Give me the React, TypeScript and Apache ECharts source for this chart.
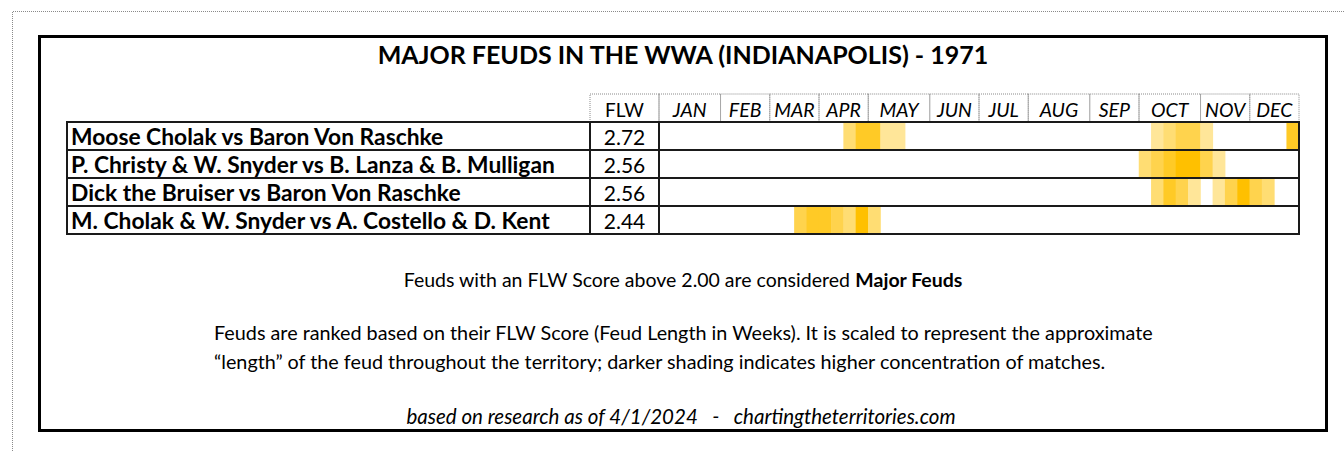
import React, { useEffect, useRef } from "react";
import * as echarts from "echarts";

const TITLE = "MAJOR FEUDS IN THE WWA (INDIANAPOLIS) - 1971";
const months = ["JAN", "FEB", "MAR", "APR", "MAY", "JUN", "JUL", "AUG", "SEP", "OCT", "NOV", "DEC"];
const monthWeeks = [5, 4, 4, 4, 5, 4, 4, 5, 4, 5, 4, 4];
const weeks = Array.from({ length: 52 }, (_, i) => `W${i + 1}`);

const feuds = [
  "Moose Cholak vs Baron Von Raschke",
  "P. Christy & W. Snyder vs B. Lanza & B. Mulligan",
  "Dick the Bruiser vs Baron Von Raschke",
  "M. Cholak & W. Snyder vs A. Costello & D. Kent",
];
const flwScores = ["2.72", "2.56", "2.56", "2.44"];

// [weekIndex (0-based), shading level 1..5]
const shadeCholakVonRaschke = [[15, 2], [16, 4], [17, 4], [18, 1], [19, 1], [40, 1], [41, 2], [42, 3], [43, 3], [44, 1], [51, 4]];
const shadeChristySnyder = [[39, 2], [40, 3], [41, 4], [42, 5], [43, 5], [44, 3], [45, 1]];
const shadeBruiserVonRaschke = [[40, 2], [41, 4], [42, 3], [43, 1], [45, 1], [46, 3], [47, 5], [48, 3], [49, 2]];
const shadeCholakSnyder = [[11, 3], [12, 4], [13, 4], [14, 3], [15, 2], [16, 5], [17, 2]];
const shading = [shadeCholakVonRaschke, shadeChristySnyder, shadeBruiserVonRaschke, shadeCholakSnyder];

const NOTE1 = "Feuds with an FLW Score above 2.00 are considered ";
const NOTE1B = "Major Feuds";
const NOTE2 = "Feuds are ranked based on their FLW Score (Feud Length in Weeks). It is scaled to represent the approximate";
const NOTE3 = "\u201Clength\u201D of the feud throughout the territory; darker shading indicates higher concentration of matches.";
const NOTE4 = "based on research as of 4/1/2024   -   chartingtheterritories.com";

const FONT = "Lato, 'Open Sans', sans-serif";

export default function App() {
  const ref = useRef<HTMLDivElement>(null);
  useEffect(() => {
    document.body.style.margin = "0";
    if (!ref.current) return;
    const chart = echarts.init(ref.current, null, { renderer: "svg" });

    const heatData: number[][] = [];
    shading.forEach((row, r) => row.forEach(([w, v]) => heatData.push([w, r, v])));

    const monthData: number[][] = [];
    let start = 0;
    monthWeeks.forEach((n, i) => {
      monthData.push([start, 0, n, i]);
      start += n;
    });

    const option: any = {
      animation: false,
      backgroundColor: "#fff",
      textStyle: { fontFamily: FONT },
      grid: { left: 659, top: 122, width: 640, height: 112, containLabel: false },
      xAxis: {
        type: "category",
        data: weeks,
        show: false,
      },
      yAxis: [
        {
          type: "category",
          data: feuds,
          inverse: true,
          position: "left",
          axisLine: { show: false },
          axisTick: { show: false },
          splitLine: { show: false },
          axisLabel: {
            interval: 0,
            hideOverlap: false,
            align: "left",
            margin: 588,
            fontSize: 22.8,
            fontWeight: "bold",
            color: "#000",
            fontFamily: FONT,
          },
        },
        {
          type: "category",
          data: flwScores,
          inverse: true,
          position: "left",
          axisLine: { show: false },
          axisTick: { show: false },
          splitLine: { show: false },
          axisLabel: {
            interval: 0,
            hideOverlap: false,
            align: "center",
            margin: 34.5,
            fontSize: 21,
            color: "#000",
            fontFamily: FONT,
          },
        },
      ],
      visualMap: {
        show: false,
        type: "continuous",
        min: 1,
        max: 5,
        dimension: 2,
        seriesIndex: 0,
        inRange: { color: ["#FFE699", "#FFC000"] },
      },
      series: [
        {
          type: "heatmap",
          data: heatData,
          itemStyle: { borderWidth: 0 },
          emphasis: { disabled: true },
          z: 1,
        },
        {
          type: "custom",
          z: 5,
          silent: true,
          data: feuds.map((_, i) => [0, i]),
          renderItem: (params: any, api: any) => {
            const cs = params.coordSys;
            const cy = api.coord([0, api.value(1)])[1];
            const h = api.size([0, 1])[1];
            const top = cy - h / 2;
            const stroke = { stroke: "#1a1a1a", lineWidth: 2, fill: null };
            return {
              type: "group",
              children: [
                { type: "rect", shape: { x: cs.x - 592, y: top, width: cs.width + 592, height: h }, style: stroke },
                { type: "line", shape: { x1: cs.x - 69, y1: top, x2: cs.x - 69, y2: top + h }, style: stroke },
                { type: "line", shape: { x1: cs.x, y1: top, x2: cs.x, y2: top + h }, style: stroke },
              ],
            };
          },
        },
        {
          type: "custom",
          z: 4,
          silent: true,
          data: monthData,
          renderItem: (params: any, api: any) => {
            const cs = params.coordSys;
            const bw = api.size([1, 0])[0];
            const x0 = api.coord([api.value(0), 0])[0] - bw / 2;
            const w = api.value(2) * bw;
            const hh = 28;
            const top = cs.y - hh;
            const dotted = { stroke: "#8a8a8a", lineWidth: 1, lineDash: [1, 1], fill: null };
            const children: any[] = [
              { type: "rect", shape: { x: x0, y: top, width: w, height: hh }, style: dotted },
              {
                type: "text",
                style: {
                  text: months[api.value(3)],
                  x: x0 + w / 2,
                  y: top + hh / 2 + 1,
                  align: "center",
                  verticalAlign: "middle",
                  fontSize: 19.5,
                  fontStyle: "italic",
                  fontFamily: FONT,
                  fill: "#000",
                },
              },
            ];
            if (params.dataIndex === 0) {
              children.push(
                { type: "rect", shape: { x: cs.x - 69, y: top, width: 69, height: hh }, style: dotted },
                {
                  type: "text",
                  style: {
                    text: "FLW",
                    x: cs.x - 34.5,
                    y: top + hh / 2 + 1,
                    align: "center",
                    verticalAlign: "middle",
                    fontSize: 19,
                    fontFamily: FONT,
                    fill: "#000",
                  },
                }
              );
            }
            return { type: "group", children };
          },
        },
      ],
      graphic: [
        {
          type: "polyline",
          silent: true,
          shape: { points: [[12.5, 451], [12.5, 11.5], [1344, 11.5]] },
          style: { fill: null, stroke: "#8a8a8a", lineWidth: 1, lineDash: [1, 1] },
        },
        {
          type: "rect",
          silent: true,
          shape: { x: 39.5, y: 36.5, width: 1287, height: 394 },
          style: { fill: null, stroke: "#000", lineWidth: 3 },
        },
        {
          type: "text",
          x: 683,
          y: 54,
          style: {
            text: TITLE,
            align: "center",
            verticalAlign: "middle",
            fontSize: 25,
            fontWeight: "bold",
            fontFamily: FONT,
            fill: "#000",
          },
        },
        {
          type: "text",
          x: 683,
          y: 279,
          style: {
            text: `{a|${NOTE1}}{b|${NOTE1B}}`,
            align: "center",
            verticalAlign: "middle",
            rich: {
              a: { fontSize: 19.5, fontFamily: FONT, fill: "#000", color: "#000" },
              b: { fontSize: 19.5, fontFamily: FONT, fontWeight: "bold", fill: "#000", color: "#000" },
            },
          },
        },
        {
          type: "text",
          x: 214,
          y: 332,
          style: { text: NOTE2, align: "left", verticalAlign: "middle", fontSize: 19.8, fontFamily: FONT, fill: "#000" },
        },
        {
          type: "text",
          x: 214,
          y: 361,
          style: { text: NOTE3, align: "left", verticalAlign: "middle", fontSize: 19.8, fontFamily: FONT, fill: "#000" },
        },
        {
          type: "text",
          x: 681,
          y: 416,
          style: {
            text: NOTE4,
            align: "center",
            verticalAlign: "middle",
            fontSize: 20.5,
            fontStyle: "italic",
            fontFamily: FONT,
            fill: "#000",
          },
        },
      ],
    };

    chart.setOption(option);
    return () => chart.dispose();
  }, []);

  return <div ref={ref} style={{ width: 1344, height: 451 }} />;
}
